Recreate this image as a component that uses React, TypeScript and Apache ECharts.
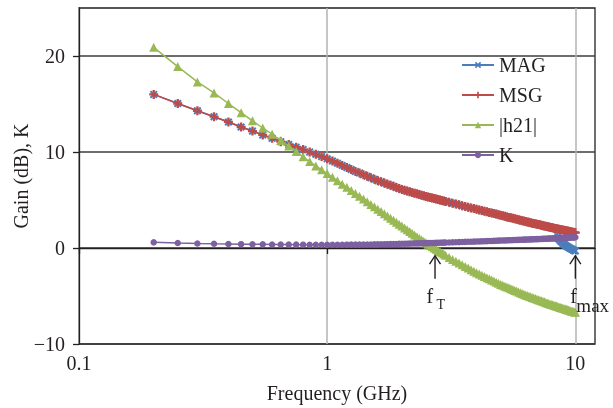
import React, { useEffect, useRef } from "react";
import * as echarts from "echarts";

// Frequency points (GHz)
const freqs = [
  0.2, 0.25, 0.3, 0.35, 0.4, 0.45, 0.5, 0.55, 0.6, 0.65, 0.7, 0.75, 0.8, 0.85, 0.9, 0.95,
  1.0, 1.05, 1.1, 1.15, 1.2, 1.25, 1.3, 1.35, 1.4, 1.45, 1.5, 1.55, 1.6, 1.65, 1.7, 1.75, 1.8, 1.85, 1.9, 1.95,
  2.0, 2.05, 2.1, 2.15, 2.2, 2.25, 2.3, 2.35, 2.4, 2.45, 2.5, 2.55, 2.6, 2.65, 2.7, 2.75, 2.8, 2.85, 2.9, 2.95,
  3.0,
  3.1, 3.2, 3.3, 3.4, 3.5, 3.6, 3.7, 3.8, 3.9, 4.0,
  4.1, 4.2, 4.3, 4.4, 4.5, 4.6, 4.7, 4.8, 4.9, 5.0,
  5.1, 5.2, 5.3, 5.4, 5.5, 5.6, 5.7, 5.8, 5.9, 6.0,
  6.1, 6.2, 6.3, 6.4, 6.5, 6.6, 6.7, 6.8, 6.9, 7.0,
  7.1, 7.2, 7.3, 7.4, 7.5, 7.6, 7.7, 7.8, 7.9, 8.0,
  8.1, 8.2, 8.3, 8.4, 8.5, 8.6, 8.7, 8.8, 8.9, 9.0,
  9.1, 9.2, 9.3, 9.4, 9.5, 9.6, 9.7, 9.8, 9.9, 10.0,
];

const magValues = [
  16.0, 15.05, 14.3, 13.68, 13.13, 12.6, 12.18, 11.78, 11.42, 11.08, 10.78, 10.5, 10.25, 9.99, 9.76, 9.52,
  9.3, 9.06, 8.83, 8.6, 8.39, 8.18, 7.98, 7.82, 7.64, 7.48, 7.31, 7.16, 7.01, 6.89, 6.76, 6.64, 6.53, 6.42, 6.3, 6.2,
  6.1, 6.02, 5.94, 5.86, 5.79, 5.71, 5.64, 5.57, 5.5, 5.43, 5.37, 5.3, 5.25, 5.2, 5.15, 5.1, 5.04, 4.99, 4.95, 4.9,
  4.85,
  4.76, 4.67, 4.58, 4.5, 4.41, 4.33, 4.25, 4.17, 4.11, 4.04,
  3.97, 3.9, 3.84, 3.78, 3.71, 3.65, 3.59, 3.53, 3.47, 3.41,
  3.35, 3.3, 3.24, 3.19, 3.14, 3.09, 3.04, 2.99, 2.94, 2.89,
  2.85, 2.8, 2.76, 2.71, 2.67, 2.63, 2.59, 2.55, 2.52, 2.48,
  2.44, 2.41, 2.37, 2.33, 2.3, 2.26, 2.23, 2.2, 2.16, 2.13,
  2.1, 2.07, 2.04, 2.01, 1.2, 0.9, 0.75, 0.62, 0.5, 0.4,
  0.3, 0.21, 0.13, 0.05, -0.02, -0.08, -0.14, -0.2, -0.25, -0.3,
];

const msgValues = [
  16.0, 15.05, 14.3, 13.68, 13.13, 12.6, 12.18, 11.78, 11.42, 11.08, 10.78, 10.5, 10.25, 9.99, 9.76, 9.52,
  9.3, 9.06, 8.83, 8.6, 8.39, 8.18, 7.98, 7.82, 7.64, 7.48, 7.31, 7.16, 7.01, 6.89, 6.76, 6.64, 6.53, 6.42, 6.3, 6.2,
  6.1, 6.02, 5.94, 5.86, 5.79, 5.71, 5.64, 5.57, 5.5, 5.43, 5.37, 5.3, 5.25, 5.2, 5.15, 5.1, 5.04, 4.99, 4.95, 4.9,
  4.85,
  4.76, 4.67, 4.58, 4.5, 4.41, 4.33, 4.25, 4.17, 4.11, 4.04,
  3.97, 3.9, 3.84, 3.78, 3.71, 3.65, 3.59, 3.53, 3.47, 3.41,
  3.35, 3.3, 3.24, 3.19, 3.14, 3.09, 3.04, 2.99, 2.94, 2.89,
  2.85, 2.8, 2.76, 2.71, 2.67, 2.63, 2.59, 2.55, 2.52, 2.48,
  2.44, 2.41, 2.37, 2.33, 2.3, 2.26, 2.23, 2.2, 2.16, 2.13,
  2.1, 2.07, 2.04, 2.01, 1.99, 1.96, 1.93, 1.9, 1.87, 1.84,
  1.82, 1.79, 1.77, 1.74, 1.71, 1.69, 1.66, 1.64, 1.62, 1.6,
];

const h21Values = [
  20.9, 18.9, 17.3, 16.15, 15.05, 14.1, 13.25, 12.5, 11.85, 11.2, 10.62, 10.05, 9.5, 9.0, 8.55, 8.15,
  7.75, 7.37, 7.01, 6.65, 6.33, 6.0, 5.69, 5.4, 5.1, 4.82, 4.54, 4.29, 4.03, 3.79, 3.56, 3.33, 3.11, 2.89, 2.68, 2.48,
  2.28, 2.08, 1.9, 1.72, 1.54, 1.36, 1.18, 1.02, 0.86, 0.7, 0.54, 0.39, 0.26, 0.13, 0.0, -0.13, -0.26, -0.39, -0.5, -0.63,
  -0.75,
  -0.98, -1.19, -1.39, -1.56, -1.75, -1.92, -2.09, -2.26, -2.42, -2.58,
  -2.71, -2.84, -2.96, -3.09, -3.21, -3.34, -3.45, -3.56, -3.68, -3.79,
  -3.89, -3.98, -4.06, -4.15, -4.24, -4.33, -4.42, -4.49, -4.58, -4.66,
  -4.73, -4.81, -4.89, -4.96, -5.02, -5.09, -5.15, -5.21, -5.27, -5.33,
  -5.38, -5.44, -5.5, -5.55, -5.61, -5.67, -5.72, -5.77, -5.83, -5.88,
  -5.92, -5.97, -6.01, -6.05, -6.1, -6.14, -6.19, -6.22, -6.27, -6.31,
  -6.35, -6.39, -6.43, -6.47, -6.51, -6.55, -6.59, -6.62, -6.67, -6.7,
];

const kValues = [
  0.59, 0.52, 0.47, 0.44, 0.42, 0.4, 0.39, 0.38, 0.37, 0.36, 0.355, 0.35, 0.345, 0.34, 0.34, 0.335,
  0.335, 0.335, 0.34, 0.34, 0.345, 0.35, 0.35, 0.355, 0.36, 0.365, 0.37, 0.375, 0.38, 0.39, 0.395, 0.4, 0.41, 0.415, 0.42, 0.43,
  0.44, 0.445, 0.45, 0.46, 0.465, 0.47, 0.48, 0.485, 0.49, 0.5, 0.505, 0.51, 0.52, 0.525, 0.53, 0.535, 0.54, 0.55, 0.555, 0.56,
  0.565,
  0.575, 0.59, 0.6, 0.61, 0.62, 0.635, 0.645, 0.655, 0.665, 0.675,
  0.685, 0.695, 0.705, 0.715, 0.725, 0.735, 0.745, 0.755, 0.765, 0.775,
  0.785, 0.79, 0.8, 0.81, 0.815, 0.825, 0.83, 0.84, 0.845, 0.855,
  0.86, 0.87, 0.875, 0.885, 0.89, 0.9, 0.905, 0.91, 0.92, 0.925,
  0.93, 0.94, 0.945, 0.95, 0.96, 0.965, 0.97, 0.98, 0.985, 0.99,
  0.995, 1.0, 1.005, 1.01, 1.015, 1.02, 1.03, 1.035, 1.04, 1.05,
  1.055, 1.06, 1.07, 1.075, 1.08, 1.09, 1.095, 1.1, 1.11, 1.12,
];

const seriesNames = ["MAG", "MSG", "|h21|", "K"];
const xTickValues = [0.1, 1, 10];
const yTickValues = [-10, 0, 10, 20];
const annotations = [
  { f: 2.72, sub: "T", subSize: 14, fDx: -8.5, subDx: 1.5, subDy: 48.5 },
  { f: 10, sub: "max", subSize: 19, fDx: -5, subDx: 1, subDy: 50 },
];

const FONT = "'Liberation Serif', 'Times New Roman', serif";
const TEXT = "#231f20";
const X_SYMBOL = "path://M0,1.8 L1.8,0 L5,3.2 L8.2,0 L10,1.8 L6.8,5 L10,8.2 L8.2,10 L5,6.8 L1.8,10 L0,8.2 L3.2,5 Z";
const PLUS_SYMBOL = "path://M3.7,0 H6.3 V3.7 H10 V6.3 H6.3 V10 H3.7 V6.3 H0 V3.7 H3.7 Z";

export default function App() {
  const ref = useRef<HTMLDivElement>(null);

  useEffect(() => {
    if (!ref.current) return;
    const chart = echarts.init(ref.current, null, { renderer: "svg" });
    const toData = (vals: number[]) => freqs.map((f, i) => [f, vals[i]]);

    const mkSeries = (
      name: string,
      vals: number[],
      color: string,
      symbol: string,
      symbolSize: number,
      z: number
    ) => ({
      name,
      type: "line",
      data: toData(vals),
      symbol,
      symbolSize,
      showAllSymbol: true,
      z,
      lineStyle: { color, width: 1.5 },
      itemStyle: { color, borderWidth: 0 },
      emphasis: { disabled: true },
    });

    chart.setOption({
      animation: false,
      textStyle: { fontFamily: FONT, color: TEXT },
      grid: {
        left: 79,
        right: 18,
        top: 8,
        bottom: 64,
        outerBoundsMode: "none",
        containLabel: false,
        show: true,
        borderColor: "#231f20",
        borderWidth: 1.3,
        backgroundColor: "transparent",
      },
      legend: {
        data: seriesNames,
        orient: "vertical",
        left: 461,
        top: 55,
        padding: 0,
        itemWidth: 32,
        itemHeight: 8,
        itemGap: 10,
        textStyle: { fontFamily: FONT, fontSize: 20, color: TEXT },
      },
      xAxis: {
        type: "log",
        logBase: 10,
        min: 0.1,
        max: 12,
        name: "Frequency (GHz)",
        nameLocation: "middle",
        nameGap: 39,
        nameMoveOverlap: false,
        nameTextStyle: { fontFamily: FONT, fontSize: 20, color: TEXT },
        axisLine: { lineStyle: { color: "#231f20", width: 1.3 } },
        axisTick: { show: true, length: 6, customValues: xTickValues, lineStyle: { color: "#231f20", width: 1.3 } },
        axisLabel: {
          customValues: xTickValues,
          margin: 9,
          fontFamily: FONT,
          fontSize: 20,
          color: TEXT,
          formatter: (v: number) => String(v),
        },
        splitLine: { show: true, lineStyle: { color: "#b3b3b3", width: 1.5 } },
        minorTick: { show: false },
      },
      yAxis: {
        type: "value",
        min: -10,
        max: 25,
        interval: 10,
        name: "Gain (dB), K",
        nameLocation: "middle",
        nameGap: 48,
        nameMoveOverlap: false,
        nameTextStyle: { fontFamily: FONT, fontSize: 20, color: TEXT },
        axisLine: { show: true, lineStyle: { color: "#231f20", width: 1.3 } },
        axisTick: { show: true, length: 6, customValues: yTickValues, lineStyle: { color: "#231f20", width: 1.3 } },
        axisLabel: {
          customValues: yTickValues,
          margin: 14,
          fontFamily: FONT,
          fontSize: 20,
          color: TEXT,
          formatter: (v: number) => (v < 0 ? "\u2212" + Math.abs(v) : String(v)),
        },
        splitLine: { show: true, lineStyle: { color: "#3d3d3d", width: 1.5 } },
      },
      series: [
        mkSeries("MAG", magValues, "#4a7ebb", X_SYMBOL, 8, 2),
        mkSeries("MSG", msgValues, "#be4b48", PLUS_SYMBOL, 9, 3),
        mkSeries("|h21|", h21Values, "#98b954", "triangle", 9, 4),
        mkSeries("K", kValues, "#7d60a0", "circle", 6.5, 5),
      ],
    });

    const graphics: any[] = [];
    annotations.forEach((a) => {
      const tip = chart.convertToPixel({ xAxisIndex: 0, yAxisIndex: 0 }, [a.f, -0.8]) as number[];
      const x = tip[0];
      const y = tip[1];
      const stroke = { stroke: "#231f20", lineWidth: 1.4, fill: "none" };
      graphics.push({ type: "line", z: 100, shape: { x1: x, y1: y, x2: x, y2: y + 23 }, style: stroke });
      graphics.push({ type: "polyline", z: 100, shape: { points: [[x - 5.5, y + 8.5], [x, y], [x + 5.5, y + 8.5]] }, style: stroke });
      graphics.push({
        type: "text",
        z: 100,
        x: x + a.fDx,
        y: y + 40,
        style: { text: "f", fontFamily: FONT, fontSize: 20, fill: TEXT, verticalAlign: "middle", align: "left" },
      });
      graphics.push({
        type: "text",
        z: 100,
        x: x + a.subDx,
        y: y + a.subDy,
        style: { text: a.sub, fontFamily: FONT, fontSize: a.subSize, fill: TEXT, verticalAlign: "middle", align: "left" },
      });
    });
    chart.setOption({ graphic: graphics });

    return () => chart.dispose();
  }, []);

  return <div ref={ref} style={{ position: "fixed", left: 0, top: 0, width: 613, height: 408 }} />;
}
